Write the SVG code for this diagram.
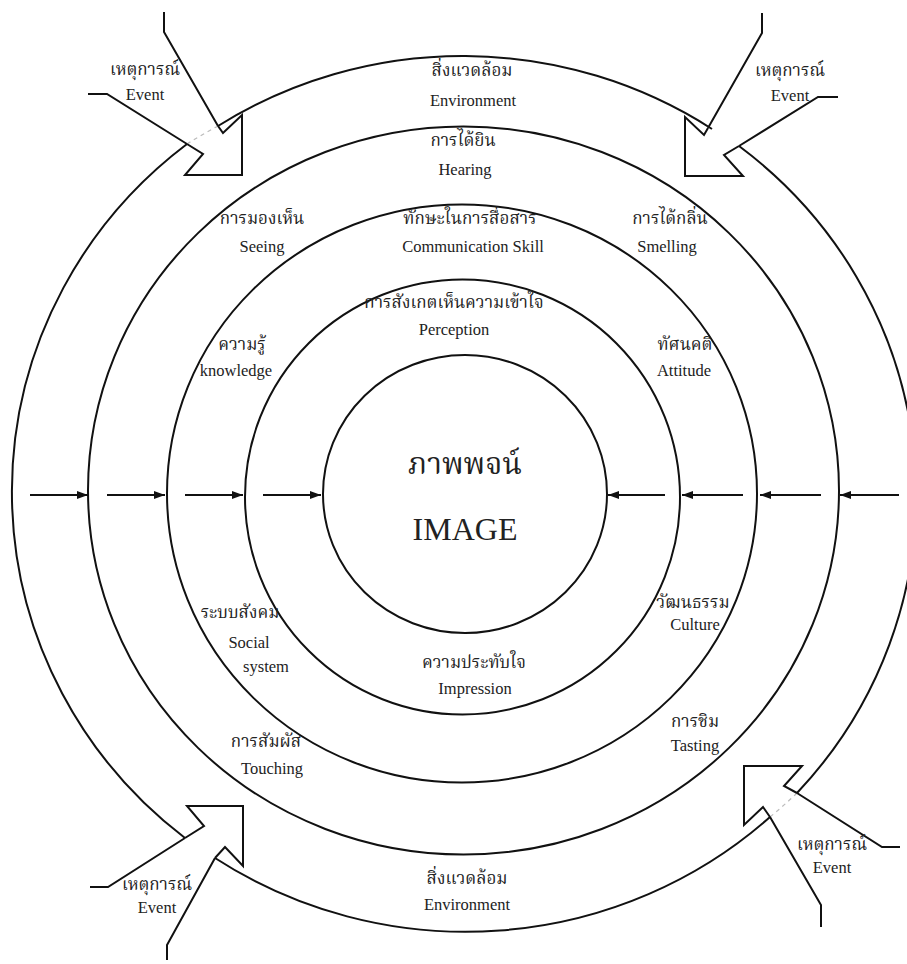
<svg xmlns="http://www.w3.org/2000/svg" width="907" height="964" viewBox="0 0 907 964">
<defs>
<marker id="ah" markerUnits="userSpaceOnUse" markerWidth="12" markerHeight="10" refX="11" refY="4" orient="auto">
<path d="M0,0 L11,4 L0,8 Z" fill="#111"/>
</marker>
<style>
.ring{fill:none;stroke:#111;stroke-width:2}
.ev{fill:none;stroke:#111;stroke-width:2;stroke-linejoin:miter}
.gap{fill:none;stroke:#bbb;stroke-width:1.2;stroke-dasharray:4 4}
.arr{stroke:#111;stroke-width:2;marker-end:url(#ah)}
text{font-family:"Liberation Serif","DejaVu Serif","Noto Serif Thai","Noto Sans Thai",serif;fill:#222;text-anchor:middle}
.th{font-size:17px}
.en{font-size:16.5px}
</style>
</defs>
<rect width="907" height="964" fill="#fff"/>

<g id="rings">
<ellipse class="ring" cx="465" cy="494" rx="142" ry="139"/>
<ellipse class="ring" cx="462.5" cy="497" rx="217.5" ry="217.5"/>
<ellipse class="ring" cx="462" cy="493.5" rx="295" ry="289"/>
<ellipse class="ring" cx="463.5" cy="490.5" rx="375.5" ry="364"/>
<path class="ring" d="M218,126 A452,440 0 0 1 712,129"/>
<path class="ring" d="M739,146 A452,440 0 0 1 797,793"/>
<path class="ring" d="M770,817 A452,440 0 0 1 215,858"/>
<path class="ring" d="M185,838 A452,440 0 0 1 187,144"/>
<path class="gap" d="M187,144 A452,440 0 0 1 218,126"/>
<path class="gap" d="M797,793 A452,440 0 0 1 770,817"/>
</g>

<g id="event-tl">
<polyline class="ev" points="164,12 164,32 218,126"/>
<polyline class="ev" points="88,94 107,94 187,144"/>
<polyline class="ev" points="218,126 223,133 242,115 242,175 185,175 203,154 187,144"/>
<text class="th" x="145" y="75">เหตุการณ์</text>
<text class="en" x="145" y="100">Event</text>
</g>

<g id="event-tr">
<polyline class="ev" points="762,13 762,33 708,128"/>
<polyline class="ev" points="708,128 704,135 685,117 685,176 743,176 724,155 739,146"/>
<polyline class="ev" points="739,146 818,97 838,97"/>
<text class="th" x="790" y="76">เหตุการณ์</text>
<text class="en" x="790" y="101">Event</text>
</g>

<g id="event-bl">
<polyline class="ev" points="90,887 108,887 185,838"/>
<polyline class="ev" points="185,838 204,826 187,806 243,806 243,866 225,847 215,858"/>
<polyline class="ev" points="215,858 167,945 167,960"/>
<text class="th" x="157" y="890">เหตุการณ์</text>
<text class="en" x="157" y="913">Event</text>
</g>

<g id="event-br">
<polyline class="ev" points="900,847 882,847 797,793"/>
<polyline class="ev" points="797,793 784,786 802,766 744,766 744,825 763,807 770,817"/>
<polyline class="ev" points="770,817 821,905 821,927"/>
<text class="th" x="832" y="850">เหตุการณ์</text>
<text class="en" x="832" y="873">Event</text>
</g>

<g id="connectors">
<line class="arr" x1="30" y1="495" x2="88" y2="495"/>
<line class="arr" x1="107" y1="495" x2="165" y2="495"/>
<line class="arr" x1="185" y1="495" x2="243" y2="495"/>
<line class="arr" x1="263" y1="495" x2="321" y2="495"/>
<line class="arr" x1="665" y1="495" x2="608" y2="495"/>
<line class="arr" x1="743" y1="495" x2="682" y2="495"/>
<line class="arr" x1="821" y1="495" x2="760" y2="495"/>
<line class="arr" x1="899" y1="495" x2="840" y2="495"/>
</g>

<g id="environment-top">
<text class="th" x="472" y="76">สิ่งแวดล้อม</text>
<text class="en" x="473" y="106">Environment</text>
</g>
<g id="hearing">
<text class="th" x="463" y="146">การได้ยิน</text>
<text class="en" x="465" y="175">Hearing</text>
</g>
<g id="seeing">
<text class="th" x="262" y="224">การมองเห็น</text>
<text class="en" x="262" y="252">Seeing</text>
</g>
<g id="communication">
<text class="th" x="470" y="224">ทักษะในการสื่อสาร</text>
<text class="en" x="473" y="252">Communication Skill</text>
</g>
<g id="smelling">
<text class="th" x="670" y="224">การได้กลิ่น</text>
<text class="en" x="667" y="252">Smelling</text>
</g>
<g id="perception">
<text class="th" x="454" y="308">การสังเกตเห็นความเข้าใจ</text>
<text class="en" x="454" y="335">Perception</text>
</g>
<g id="knowledge">
<text class="th" x="242" y="350">ความรู้</text>
<text class="en" x="236" y="376">knowledge</text>
</g>
<g id="attitude">
<text class="th" x="685" y="350">ทัศนคติ</text>
<text class="en" x="684" y="376">Attitude</text>
</g>
<g id="image">
<text x="465" y="474" style="font-size:30px">ภาพพจน์</text>
<text x="465" y="540" style="font-size:32px">IMAGE</text>
</g>
<g id="culture">
<text class="th" x="693" y="608">วัฒนธรรม</text>
<text class="en" x="695" y="630">Culture</text>
</g>
<g id="social">
<text class="th" x="240" y="618">ระบบสังคม</text>
<text class="en" x="249" y="648">Social</text>
<text class="en" x="266" y="672">system</text>
</g>
<g id="impression">
<text class="th" x="474" y="668">ความประทับใจ</text>
<text class="en" x="475" y="694">Impression</text>
</g>
<g id="tasting">
<text class="th" x="695" y="727">การชิม</text>
<text class="en" x="695" y="751">Tasting</text>
</g>
<g id="touching">
<text class="th" x="266" y="747">การสัมผัส</text>
<text class="en" x="272" y="774">Touching</text>
</g>
<g id="environment-bottom">
<text class="th" x="467" y="884">สิ่งแวดล้อม</text>
<text class="en" x="467" y="910">Environment</text>
</g>
</svg>
